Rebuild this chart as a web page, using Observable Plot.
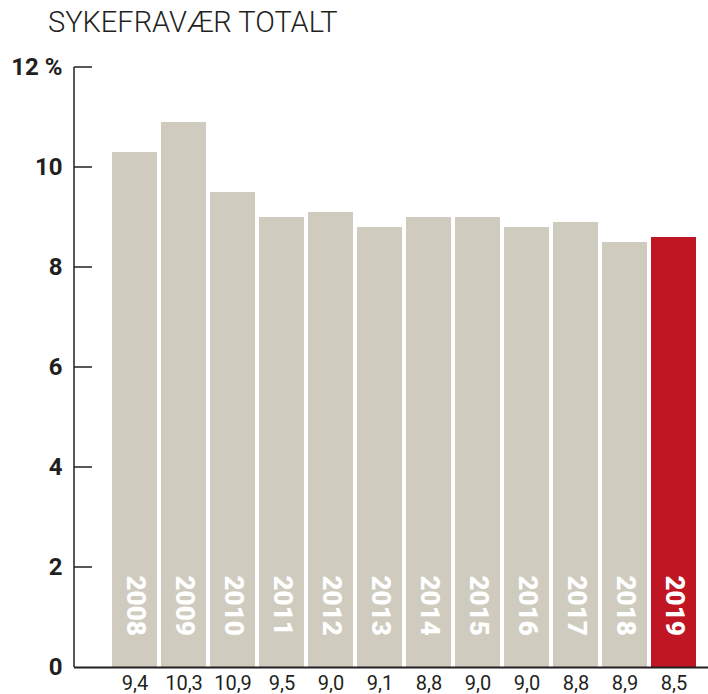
<!DOCTYPE html>
<html><head><meta charset="utf-8">
<script src="https://cdn.jsdelivr.net/npm/d3@7"></script>
<script src="https://cdn.jsdelivr.net/npm/@observablehq/plot@0.6"></script>
<style>
html,body{margin:0;padding:0;background:#fff;overflow:hidden;width:708px;height:694px}
#title{height:44px;box-sizing:border-box;padding:8px 0 0 48px;font:300 29px Roboto, sans-serif;line-height:1;color:#231f20;white-space:nowrap}
svg{display:block}
</style></head><body>
<div id="title">SYKEFRAVÆR TOTALT</div>
<div id="chart"></div>
<script>
const years = ["2008","2009","2010","2011","2012","2013","2014","2015","2016","2017","2018","2019"];
const values = [10.3, 10.9, 9.5, 9.0, 9.1, 8.8, 9.0, 9.0, 8.8, 8.9, 8.5, 8.6];
const bottomLabels = ["9,4","10,3","10,9","9,5","9,0","9,1","8,8","9,0","9,0","8,8","8,9","8,5"];
const yTicks = [0, 2, 4, 6, 8, 10, 12];
const highlightYear = "2019";
const grayColor = "#cfccbf";
const redColor = "#c01624";
const ink = "#231f20";

const data = years.map((year, i) => ({year, value: values[i], label: bottomLabels[i]}));

const chart = Plot.plot({
  width: 708,
  height: 650,
  marginTop: 23,
  marginBottom: 27,
  marginLeft: 74,
  marginRight: 0,
  style: {fontFamily: "Roboto, sans-serif", background: "#fff", overflow: "visible"},
  x: {type: "band", domain: years, range: [112, 697], paddingInner: 0.0816, paddingOuter: 0, axis: null},
  y: {domain: [0, 12], axis: null},
  color: {type: "identity"},
  marks: [
    Plot.barY(data, {x: "year", y: "value", fill: d => d.year === highlightYear ? redColor : grayColor}),
    Plot.ruleY([0], {stroke: ink, strokeWidth: 2}),
    Plot.text(data, {x: "year", y: () => 0, text: "year", rotate: 90, textAnchor: "start", lineAnchor: "middle", dy: -92, fill: "#fff", fontSize: 26, fontWeight: 900}),
    Plot.text(data, {x: "year", y: () => 0, text: "label", dy: 16, lineAnchor: "middle", fill: ink, fontSize: 20}),
    Plot.axisY(yTicks, {tickSize: 0, tickPadding: 12, label: null, tickFormat: d => d === 12 ? "12 %" : String(d), fontSize: 24, fontWeight: "bold", fill: ink})
  ]
});

const ys = chart.scale("y");
const svg = d3.select(chart);
const axisX = 74;
svg.append("line")
  .attr("x1", axisX).attr("x2", axisX)
  .attr("y1", ys.apply(0)).attr("y2", ys.apply(12))
  .attr("stroke", ink).attr("stroke-width", 1.5);
svg.append("g").selectAll("line").data(yTicks.filter(t => t !== 0)).join("line")
  .attr("x1", axisX).attr("x2", axisX + 18)
  .attr("y1", d => ys.apply(d)).attr("y2", d => ys.apply(d))
  .attr("stroke", ink).attr("stroke-width", 1.5);

document.getElementById("chart").appendChild(chart);
</script>
</body></html>
